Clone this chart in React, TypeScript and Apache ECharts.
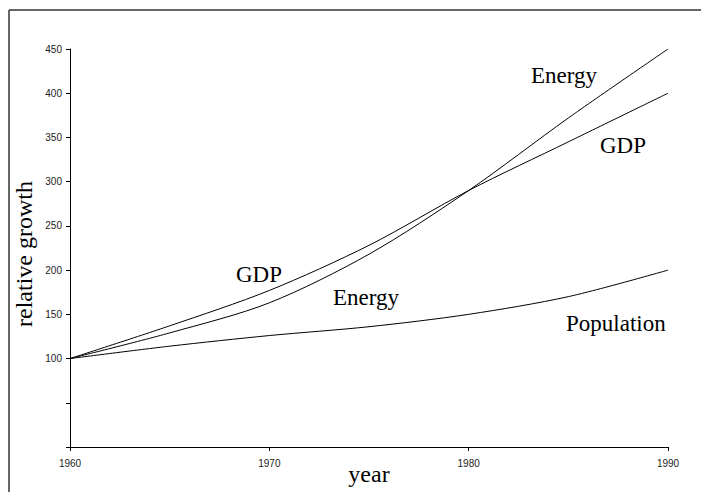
import React, { useEffect, useRef } from "react";
import * as echarts from "echarts";

const years = [1960, 1965, 1970, 1975, 1980, 1985, 1990];
const population = [100, 114, 126, 136, 150, 170, 200];
const gdp = [100, 137, 177, 228, 290, 345, 400];
const energy = [100, 129, 163, 218, 290, 372, 450];

const seriesLabels = [
  { text: "GDP", x: 236, y: 274 },
  { text: "Energy", x: 333, y: 297 },
  { text: "Energy", x: 531, y: 75 },
  { text: "GDP", x: 600, y: 145 },
  { text: "Population", x: 566, y: 323 },
];

const pair = (vals: number[]) => years.map((y, i) => [y, vals[i]]);

export default function App() {
  const ref = useRef<HTMLDivElement>(null);
  useEffect(() => {
    if (!ref.current) return;
    const chart = echarts.init(ref.current, null, { renderer: "svg" });
    const serif = "'Liberation Serif', 'Times New Roman', serif";
    const sans = "'Liberation Sans', Arial, sans-serif";
    const lineStyle = { color: "#000", width: 1 };
    const common = { type: "line", smooth: 0.3, showSymbol: false, lineStyle };
    chart.setOption({
      animation: false,
      backgroundColor: "#fff",
      grid: {
        left: 70,
        right: 33,
        top: 49,
        bottom: 45,
        containLabel: false,
        outerBoundsMode: "none",
      },
      xAxis: {
        type: "value",
        min: 1960,
        max: 1990,
        interval: 10,
        name: "year",
        nameLocation: "middle",
        nameGap: 15,
        nameMoveOverlap: false,
        nameTextStyle: { fontFamily: serif, fontSize: 24, color: "#000", verticalAlign: "top", padding: 0 },
        axisLine: { lineStyle: { color: "#000", width: 1 } },
        axisTick: { show: true, length: 4, lineStyle: { color: "#000" } },
        axisLabel: {
          fontFamily: sans,
          fontSize: 10,
          color: "#222",
          margin: 11,
          formatter: (v: number) => String(v),
        },
        splitLine: { show: false },
      },
      yAxis: {
        type: "value",
        min: 0,
        max: 450,
        interval: 50,
        name: "relative growth",
        nameLocation: "middle",
        nameGap: 34,
        nameMoveOverlap: false,
        nameTextStyle: { fontFamily: serif, fontSize: 24, color: "#000", padding: [0, 12, 0, 0] },
        axisLine: { show: true, lineStyle: { color: "#000", width: 1 } },
        axisTick: { show: true, length: 4, lineStyle: { color: "#000" } },
        axisLabel: {
          fontFamily: sans,
          fontSize: 10,
          color: "#222",
          margin: 8,
          formatter: (v: number) => (v >= 100 ? String(v) : ""),
        },
        splitLine: { show: false },
      },
      series: [
        { ...common, name: "Population", data: pair(population) },
        { ...common, name: "GDP", data: pair(gdp) },
        { ...common, name: "Energy", data: pair(energy) },
      ],
      graphic: [
        { type: "line", shape: { x1: 9, y1: 10, x2: 701, y2: 10 }, style: { stroke: "#333", lineWidth: 1.5 } },
        { type: "line", shape: { x1: 9, y1: 10, x2: 9, y2: 492 }, style: { stroke: "#333", lineWidth: 1.5 } },
        ...seriesLabels.map((l) => ({
          type: "text",
          x: l.x,
          y: l.y,
          style: {
            text: l.text,
            fontFamily: serif,
            fontSize: 23,
            fill: "#000",
            textAlign: "left",
            textVerticalAlign: "middle",
          },
        })),
      ],
    });
    return () => chart.dispose();
  }, []);
  return (
    <div
      ref={ref}
      style={{ position: "fixed", left: 0, top: 0, width: 701, height: 492 }}
    />
  );
}
